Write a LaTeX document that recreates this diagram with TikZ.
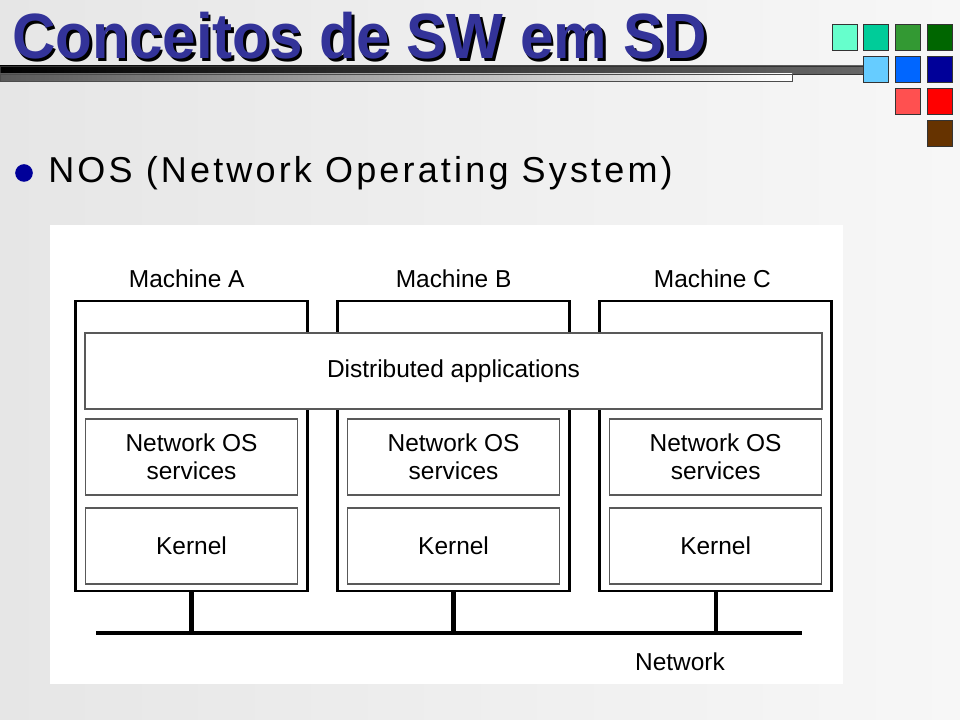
\documentclass[tikz,border=0pt]{standalone}
\usepackage{fontspec}
\setmainfont{Liberation Sans}
\usetikzlibrary{positioning}
\definecolor{titleblue}{RGB}{51,51,153}
\definecolor{bulletblue}{RGB}{0,0,153}
\definecolor{sqa}{RGB}{102,255,204}
\definecolor{sqb}{RGB}{0,204,153}
\definecolor{sqc}{RGB}{51,153,51}
\definecolor{sqd}{RGB}{0,102,0}
\definecolor{sqe}{RGB}{102,204,255}
\definecolor{sqf}{RGB}{0,102,255}
\definecolor{sqg}{RGB}{0,0,153}
\definecolor{sqh}{RGB}{255,80,80}
\definecolor{sqi}{RGB}{255,0,0}
\definecolor{sqj}{RGB}{102,51,0}
\definecolor{bgleft}{RGB}{230,230,230}
\definecolor{bgright}{RGB}{247,247,247}
\newcommand{\shadowtext}[1]{\makebox[0pt][l]{\hspace{1.8pt}\raisebox{-1.8pt}{\color{black}#1}}#1}
\tikzstyle{machine} = [rectangle, 
minimum width=5.8cm, 
minimum height=7.25cm, 
draw=black, 
line width=2pt]
\tikzstyle{layer} = [rectangle, 
minimum width=5.3cm, 
minimum height=1.9cm, 
text centered, 
align=center, 
draw=black!65, 
line width=0.9pt, 
fill=white, 
font=\fontsize{17.4}{20}\selectfont]
\tikzstyle{apps} = [layer, minimum width=18.425cm]
\tikzstyle{caption} = [inner sep=0pt, font=\fontsize{17.4}{20}\selectfont]
\tikzstyle{square} = [rectangle, 
minimum size=0.625cm, 
inner sep=0pt, 
draw=black!80, 
line width=0.7pt]
\tikzstyle{bus} = [line width=3pt]

\begin{document}
\begin{tikzpicture}[x=0.025cm, y=-0.025cm, node distance=2.225cm]
\useasboundingbox (0,0) rectangle (960,720);
\shade [left color=bgleft, right color=bgright] (0,0) rectangle (960,720);

% header bars
\shade [left color=black, right color=black!60, draw=black!80, line width=0.4pt] (0,66) rectangle (863,74);
\shade [left color=black!65, right color=white, draw=black!70, line width=0.4pt] (0,74) rectangle (792,81);

% colour squares
\node (sq1) [square, fill=sqa] at (844.5,37.5) {};
\node (sq2) [square, fill=sqb] at (875.5,37.5) {};
\node (sq3) [square, fill=sqc] at (907.5,37.5) {};
\node (sq4) [square, fill=sqd] at (939.5,37.5) {};
\node (sq5) [square, fill=sqe] at (875.5,69.5) {};
\node (sq6) [square, fill=sqf] at (907.5,69.5) {};
\node (sq7) [square, fill=sqg] at (939.5,69.5) {};
\node (sq8) [square, fill=sqh] at (907.5,101.5) {};
\node (sq9) [square, fill=sqi] at (939.5,101.5) {};
\node (sq10) [square, fill=sqj] at (939.5,133.5) {};

% title
\node (title) [anchor=base west, inner sep=0pt, text=titleblue,
      font=\fontsize{45.5}{50}\selectfont\bfseries] at (12,59)
      {\scalebox{0.94}[1]{\shadowtext{Conceitos de SW em SD}}};

\node (bullet) [circle, fill=bulletblue, minimum size=0.44cm, inner sep=0pt] at (24,173) {};
\node (nos) [anchor=base west, inner sep=0pt,
      font=\fontsize{25.6}{30}\selectfont\addfontfeatures{LetterSpace=8.8}] at (48,183)
      {NOS (Network Operating System)};

% diagram panel
\fill [white] (50,225) rectangle (843,684);

\node (machine_a) [machine] at (191.5,446) {};
\node (machine_b) [machine, right of=machine_a, xshift=4.325cm] {};
\node (machine_c) [machine, right of=machine_b, xshift=4.325cm] {};

\node (label_a) [caption, above=0.3cm of machine_a, xshift=-0.12cm] {Machine A};
\node (label_b) [caption, above=0.3cm of machine_b] {Machine B};
\node (label_c) [caption, above=0.3cm of machine_c, xshift=-0.08cm] {Machine C};

\node (apps) [apps] at (453.5,371) {Distributed applications};

\node (nos_a) [layer] at (191.5,457) {Network OS\\services};
\node (kernel_a) [layer, below of=nos_a] {Kernel};
\node (nos_b) [layer, right of=nos_a, xshift=4.325cm] {Network OS\\services};
\node (kernel_b) [layer, below of=nos_b] {Kernel};
\node (nos_c) [layer, right of=nos_b, xshift=4.325cm] {Network OS\\services};
\node (kernel_c) [layer, below of=nos_c] {Kernel};

% network
\coordinate (net_l) at (96,633);
\coordinate (net_r) at (802,633);
\node (net_label) [caption, anchor=base] at (680,670) {Network};

\draw [bus] (net_l) -- (net_r);
\draw [bus] (machine_a.south) -- (machine_a.south |- net_l);
\draw [bus] (machine_b.south) -- (machine_b.south |- net_l);
\draw [bus] (machine_c.south) -- (machine_c.south |- net_l);

\end{tikzpicture}
\end{document}
